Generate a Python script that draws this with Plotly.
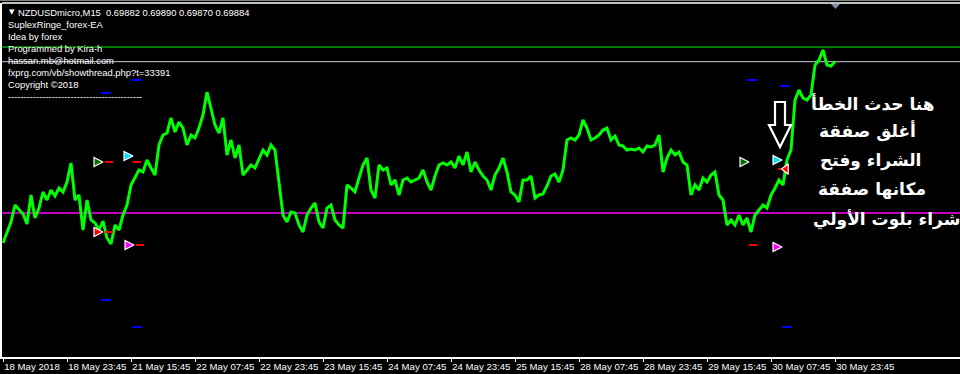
import plotly.graph_objects as go

# ---------------- data ----------------
bar_index = list(range(0, 833, 4))  # M15 bar number (1 bar = 15 min)
close_price = [
    0.68977, 0.69032, 0.69082, 0.69167, 0.69142, 0.69122, 0.69072, 0.69217, 0.69102, 0.69152,
    0.69232, 0.69192, 0.69242, 0.69212, 0.69252, 0.69232, 0.69282, 0.69377, 0.69192, 0.69217,
    0.69042, 0.69192, 0.69092, 0.69077, 0.69042, 0.69087, 0.69002, 0.68972, 0.69067, 0.69042,
    0.69117, 0.69167, 0.69267, 0.69302, 0.69342, 0.69332, 0.69392, 0.69352, 0.69317, 0.69467,
    0.69517, 0.69527, 0.69602, 0.69532, 0.69582, 0.69552, 0.69467, 0.69517, 0.69502, 0.69552,
    0.69617, 0.69732, 0.69652, 0.69567, 0.69527, 0.69602, 0.69417, 0.69492, 0.69402, 0.69467,
    0.69317, 0.69342, 0.69367, 0.69352, 0.69402, 0.69442, 0.69417, 0.69467, 0.69442, 0.69292,
    0.69117, 0.69082, 0.69132, 0.69127, 0.69067, 0.69032, 0.69117, 0.69152, 0.69177, 0.69082,
    0.69052, 0.69152, 0.69167, 0.69092, 0.69067, 0.69052, 0.69267, 0.69252, 0.69232, 0.69302,
    0.69367, 0.69402, 0.69242, 0.69202, 0.69367, 0.69342, 0.69352, 0.69267, 0.69292, 0.69217,
    0.69292, 0.69302, 0.69282, 0.69292, 0.69302, 0.69342, 0.69282, 0.69242, 0.69312, 0.69367,
    0.69377, 0.69367, 0.69382, 0.69352, 0.69412, 0.69367, 0.69432, 0.69332, 0.69382, 0.69342,
    0.69312, 0.69292, 0.69242, 0.69317, 0.69352, 0.69402, 0.69332, 0.69232, 0.69217, 0.69182,
    0.69292, 0.69292, 0.69312, 0.69202, 0.69217, 0.69222, 0.69262, 0.69312, 0.69322, 0.69282,
    0.69342, 0.69492, 0.69502, 0.69492, 0.69517, 0.69592, 0.69552, 0.69492, 0.69502, 0.69517,
    0.69542, 0.69552, 0.69492, 0.69512, 0.69467, 0.69462, 0.69442, 0.69447, 0.69442, 0.69452,
    0.69432, 0.69462, 0.69457, 0.69467, 0.69517, 0.69332, 0.69402, 0.69442, 0.69417, 0.69432,
    0.69382, 0.69367, 0.69217, 0.69267, 0.69242, 0.69302, 0.69282, 0.69317, 0.69332, 0.69217,
    0.69192, 0.69067, 0.69092, 0.69067, 0.69117, 0.69067, 0.69102, 0.69032, 0.69117, 0.69142,
    0.69167, 0.69152, 0.69217, 0.69252, 0.69292, 0.69267, 0.69392, 0.69442, 0.69692, 0.69742,
    0.69702, 0.69692, 0.69717, 0.69867, 0.69892, 0.69942, 0.69867, 0.69862, 0.69884,
]

tick_bars = [0, 64, 128, 192, 256, 320, 384, 448, 512, 576, 640, 704, 768, 832]
tick_labels = ["18 May 2018", "18 May 23:45", "21 May 15:45", "22 May 07:45",
               "22 May 23:45", "23 May 15:45", "24 May 07:45", "24 May 23:45",
               "25 May 15:45", "28 May 07:45", "28 May 23:45", "29 May 15:45",
               "30 May 07:45", "30 May 23:45"]

bid_level = 0.69884
upper_level = 0.69957
magenta_level = 0.69127

signal_bar = [100, 130, 100, 131, 746, 779, 783, 779]
signal_price = [0.69382, 0.69412, 0.69032, 0.68967, 0.69382, 0.69392, 0.69347, 0.68957]
signal_color = ["#007000", "#00E0FF", "#FF0000", "#FF00FF", "#007000", "#00E0FF", "#FF0000", "#FF00FF"]
signal_symbol = ["arrow-right", "arrow-right", "arrow-right", "arrow-right",
                 "arrow-right", "arrow-right", "triangle-left", "arrow-right"]

stop_bar = [106, 134, 106, 137, 750, 779]
stop_price = [0.69382, 0.69382, 0.69032, 0.68967, 0.68967, 0.69347]

blue_bar = [103, 134, 103, 134, 749, 782, 784]
blue_price = [0.69727, 0.69792, 0.68692, 0.68557, 0.69792, 0.69762, 0.68557]

info_lines = ["SuplexRinge_forex-EA", "Idea by forex", "Programmed by Kira-h",
              "hassan.mb@hotmail.com", "fxprg.com/vb/showthread.php?t=33391",
              "Copyright ©2018", "-" * 43]
header = "NZDUSDmicro,M15  0.69882 0.69890 0.69870 0.69884"

arabic_lines = ["هنا حدث الخطأ", "أغلق صفقة", "الشراء وفتح", "مكانها صفقة", "شراء بلوت الأولي"]

# ---------------- layout helpers (pixels -> paper) ----------------
W, H = 960, 374
ML, MR, MT, MB = 2, 0, 3, 17
PW, PH = W - ML - MR, H - MT - MB


def px(x):
    return (x - ML) / PW


def py(y):
    return 1 - (y - MT) / PH


fig = go.Figure()

fig.add_trace(go.Scatter(x=bar_index, y=close_price, mode="lines",
                         line=dict(color="#00FF00", width=3), hoverinfo="skip"))

fig.add_trace(go.Scatter(x=blue_bar, y=blue_price, mode="markers",
                         marker=dict(symbol="line-ew", size=7,
                                     line=dict(color="#0000FF", width=2)),
                         hoverinfo="skip"))
fig.add_trace(go.Scatter(x=stop_bar, y=stop_price, mode="markers",
                         marker=dict(symbol="line-ew", size=6,
                                     line=dict(color="#FF0000", width=2)),
                         hoverinfo="skip"))
fig.add_trace(go.Scatter(x=signal_bar, y=signal_price, mode="markers",
                         marker=dict(symbol=signal_symbol, size=9, color=signal_color,
                                     line=dict(color="white", width=1.2)),
                         hoverinfo="skip"))

shapes = []
for lvl, col, w in [(upper_level, "#00A000", 1.3), (bid_level, "#A0A8B0", 1.3),
                    (magenta_level, "#FF00FF", 1.6)]:
    shapes.append(dict(type="line", xref="paper", yref="y", x0=0, x1=1, y0=lvl, y1=lvl,
                       line=dict(color=col, width=w), layer="below"))
# frame top
shapes.append(dict(type="line", xref="paper", yref="paper", x0=0, x1=1, y0=1, y1=1,
                   line=dict(color="white", width=1.5)))
shapes.append(dict(type="line", xref="paper", yref="paper", x0=px(0), x1=1, y0=py(0.5), y1=py(0.5),
                   line=dict(color="#808080", width=1)))
# chart-shift marker
shapes.append(dict(type="path", xref="paper", yref="paper",
                   path=f"M {px(831)},{py(4)} L {px(840)},{py(4)} L {px(835.5)},{py(9)} Z",
                   fillcolor="#8090A0", line=dict(width=0)))
# hand-drawn down arrow
pts = [(775, 102), (785, 102), (785, 125), (791, 125), (780, 147), (769, 125), (775, 125)]
path = "M " + " L ".join(f"{px(a)},{py(b)}" for a, b in pts) + " Z"
shapes.append(dict(type="path", xref="paper", yref="paper", path=path,
                   fillcolor="black", line=dict(color="white", width=2.2)))

annotations = []
font_small = dict(family="Liberation Sans", size=9.4, color="white")
annotations.append(dict(xref="paper", yref="paper", x=px(7), y=py(12), text="▼",
                        showarrow=False, xanchor="left", yanchor="middle",
                        font=dict(family="DejaVu Sans", size=7, color="white")))
annotations.append(dict(xref="paper", yref="paper", x=px(16), y=py(12), text=header,
                        showarrow=False, xanchor="left", yanchor="middle", font=font_small))
for i, t in enumerate(info_lines):
    annotations.append(dict(xref="paper", yref="paper", x=px(6), y=py(24.5 + 12 * i), text=t,
                            showarrow=False, xanchor="left", yanchor="middle", font=font_small))

arabic_pos = [(873, 103), (867, 131), (870, 160), (872, 189), (886, 220)]
for t, (ax_, ay_) in zip(arabic_lines, arabic_pos):
    annotations.append(dict(xref="paper", yref="paper", x=px(ax_), y=py(ay_), text=t,
                            showarrow=False, xanchor="center", yanchor="middle",
                            font=dict(family="DejaVu Sans", size=17, color="white", weight="bold")))

fig.update_layout(
    width=W, height=H,
    margin=dict(l=ML, r=MR, t=MT, b=MB, pad=0, autoexpand=False),
    paper_bgcolor="black", plot_bgcolor="black",
    showlegend=False,
    shapes=shapes, annotations=annotations,
    xaxis=dict(range=[-1, 957], showgrid=False, zeroline=False,
               showline=True, linecolor="white", linewidth=1.5,
               ticks="outside", ticklen=3, tickcolor="white", tickwidth=1,
               tickvals=tick_bars, ticktext=tick_labels, tickangle=0,
               ticklabelposition="outside right", automargin=False,
               tickfont=dict(family="Liberation Sans", size=9.6, color="white"),
               fixedrange=True),
    yaxis=dict(range=[0.68407, 0.70177], showgrid=False, zeroline=False,
               showline=True, linecolor="white", linewidth=1.5,
               showticklabels=False, ticks="", fixedrange=True, automargin=False),
)

fig.write_html("out.html")
